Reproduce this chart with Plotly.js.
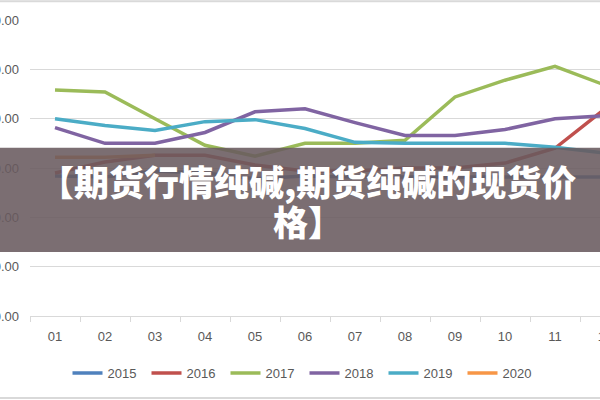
<!DOCTYPE html>
<html>
<head>
<meta charset="utf-8">
<script src="https://cdn.plot.ly/plotly-3.0.1.min.js"></script>
<style>
  html, body { margin: 0; padding: 0; background: #ffffff; }
  #wrap { position: relative; width: 600px; height: 400px; overflow: hidden; background: #ffffff; }
  #chart { position: absolute; left: -60px; top: 0; width: 700px; height: 400px; }
</style>
</head>
<body>
<div id="wrap"><div id="chart"></div></div>
<script>
// ---- data ----
var months = ["01", "02", "03", "04", "05", "06", "07", "08", "09", "10", "11", "12"];
var seriesNames = ["2015", "2016", "2017", "2018", "2019", "2020"];
var s2015 = [1420, 1410, 1470, 1450, 1390, 1420, 1410, 1410, 1410, 1410, 1410, 1410];
var s2016 = [1450, 1560, 1630, 1630, 1530, 1470, 1470, 1500, 1500, 1550, 1700, 2100];
var s2017 = [2290, 2270, 2000, 1730, 1620, 1750, 1750, 1780, 2220, 2390, 2530, 2340];
var s2018 = [1910, 1750, 1750, 1860, 2070, 2100, 1960, 1830, 1830, 1890, 2000, 2030];
var s2019 = [2000, 1930, 1880, 1970, 1990, 1900, 1760, 1750, 1750, 1750, 1710, 1650];
var s2020 = [1610, 1610, 1630];
var yTicks = [0, 500, 1000, 1500, 2000, 2500, 3000];
var titleLine1 = "【期货行情纯碱,期货纯碱的现货价";
var titleLine2 = "格】";

var colors = ["#4F81BD", "#C0504D", "#9BBB59", "#8064A2", "#4BACC6", "#F79646"];
var values = [s2015, s2016, s2017, s2018, s2019, s2020];

var traces = values.map(function (v, i) {
  return {
    type: "scatter",
    mode: "lines",
    name: seriesNames[i],
    x: months.slice(0, v.length),
    y: v,
    line: { color: colors[i], width: 3.5 },
    hoverinfo: "skip"
  };
});

var gray = "#595959";
var layout = {
  width: 700,
  height: 400,
  margin: { l: 90, r: 10, t: 20, b: 84, pad: 0 },
  paper_bgcolor: "rgba(0,0,0,0)",
  plot_bgcolor: "rgba(0,0,0,0)",
  font: { family: "Liberation Sans, Arial, sans-serif", size: 13, color: gray },
  showlegend: true,
  legend: {
    orientation: "h",
    x: 0.4575, xanchor: "center", xref: "paper",
    y: -0.193, yanchor: "middle", yref: "paper",
    font: { size: 13, color: gray },
    bgcolor: "rgba(0,0,0,0)",
    entrywidth: 34, entrywidthmode: "pixels",
    traceorder: "normal"
  },
  xaxis: {
    type: "category",
    categoryarray: months, categoryorder: "array",
    range: [-0.5, 11.5],
    showgrid: false,
    showline: true, linecolor: "#d9d9d9", linewidth: 1,
    ticks: "outside", tickson: "boundaries", ticklen: 5, tickcolor: "#d9d9d9", tickwidth: 1,
    ticklabelstandoff: 8,
    tickfont: { size: 13, color: gray },
    fixedrange: true, zeroline: false
  },
  yaxis: {
    range: [0, 3000],
    tickvals: yTicks,
    tickformat: ".2f",
    showgrid: true, gridcolor: "#d9d9d9", gridwidth: 1,
    showline: false, zeroline: false, ticks: "",
    ticklabelstandoff: 10,
    tickfont: { size: 13, color: gray },
    fixedrange: true
  },
  shapes: [
    { type: "rect", xref: "paper", yref: "paper", x0: -0.3, x1: 1.2, y0: 0.216, y1: 0.568,
      fillcolor: "rgba(105,90,95,0.88)", line: { width: 0 }, layer: "above" },
    { type: "line", xref: "paper", yref: "paper", x0: -0.3, x1: 1.2, y0: 1.063, y1: 1.063,
      line: { color: "#d9d9d9", width: 2 } },
    { type: "line", xref: "paper", yref: "paper", x0: -0.3, x1: 1.2, y0: -0.277, y1: -0.277,
      line: { color: "#d9d9d9", width: 2 } }
  ],
  annotations: [
    { text: titleLine1, xref: "paper", yref: "paper", x: 0.4633, y: 0.458,
      xanchor: "center", yanchor: "middle", showarrow: false,
      font: { family: "Noto Sans CJK SC, sans-serif", size: 35, color: "#ffffff", weight: 900 } },
    { text: titleLine2, xref: "paper", yref: "paper", x: 0.4633, y: 0.323,
      xanchor: "center", yanchor: "middle", showarrow: false,
      font: { family: "Noto Sans CJK SC, sans-serif", size: 35, color: "#ffffff", weight: 900 } }
  ]
};

Plotly.newPlot("chart", traces, layout, { displayModeBar: false, staticPlot: true });
</script>
</body>
</html>
